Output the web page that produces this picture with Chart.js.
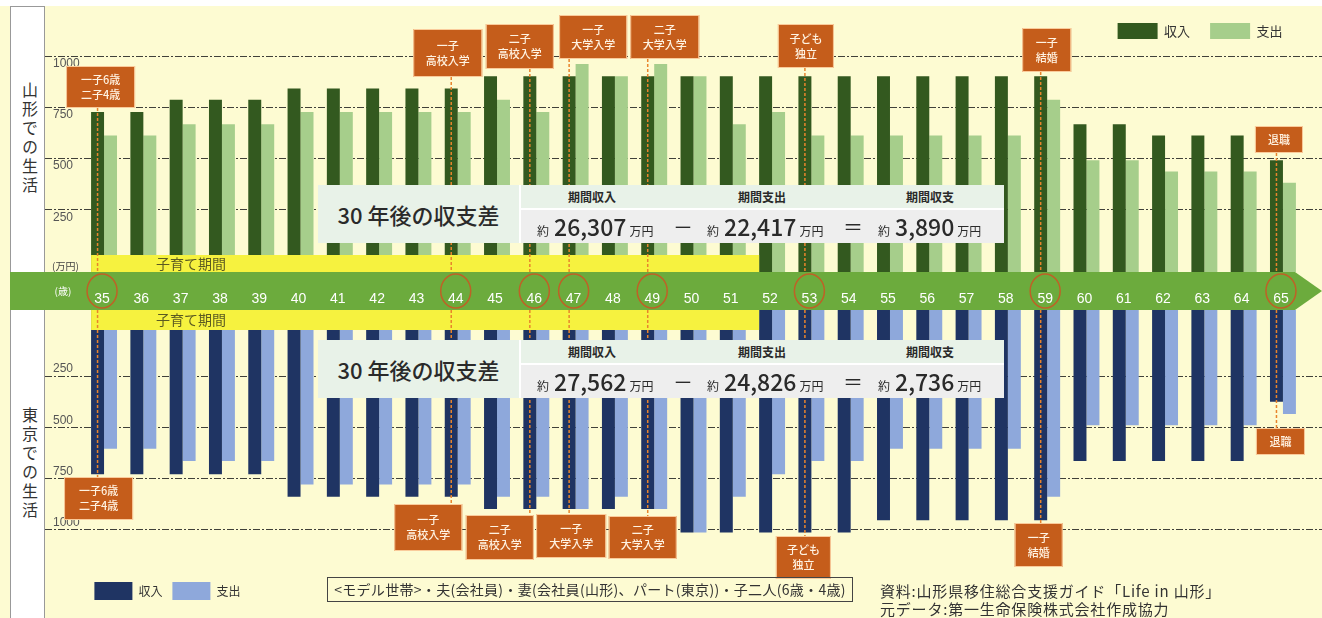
<!DOCTYPE html>
<html>
<head>
<meta charset="utf-8">
<script src="https://cdn.jsdelivr.net/npm/chart.js@4.4.1/dist/chart.umd.min.js"></script>
<style>
body { margin: 0; width: 1322px; height: 618px; background: #fdfbd2; position: relative; overflow: hidden; font-family: "Noto Sans CJK JP", sans-serif; color: #2a2a2a; }
.abs { position: absolute; }
#strip { left: 0; top: 0; width: 1322px; height: 6px; background: #fff; }
.panel { left: 10px; width: 33px; background: #fff; border-left: 1.5px solid #999; border-right: 1.5px solid #999; }
.vtext { left: 18px; writing-mode: vertical-rl; font-size: 16px; letter-spacing: 3px; color: #333; }
#topWrap { left: 0; top: 0; width: 1322px; height: 310px; }
#botWrap { left: 0; top: 310px; width: 1322px; height: 300px; }
.sum { left: 318px; width: 686px; height: 58px; background: #fff; z-index: 5; }
.sum .title { left: 0; top: 0; width: 201px; height: 58px; background: #e8f2e8; font-size: 22px; font-weight: 500; display: flex; align-items: center; justify-content: center; }
.sum .head { left: 203px; top: 0; width: 483px; height: 23px; background: #e8f2e8; }
.sum .vals { left: 203px; top: 25px; width: 483px; height: 33px; background: #eeeeee; }
.sum .h { top: 3px; font-size: 12px; font-weight: 700; transform: translateX(-50%); white-space: nowrap; }
.sum .v { top: 0; height: 33px; display: flex; align-items: baseline; white-space: nowrap; line-height: 33px; }
.sum .v small { font-size: 12px; }
.sum .v b { font-size: 23px; font-weight: 500; margin: 0 3px 0 5px; }
.sum .op { top: 0; line-height: 33px; font-size: 20px; transform: translateX(-50%); }
#model { left: 327px; top: 577px; width: 524px; height: 23px; border: 1px solid #444; font-size: 14px; line-height: 23px; text-align: center; color: #333; white-space: nowrap; letter-spacing: 0.3px; }
#src { left: 880px; top: 582px; font-size: 15px; line-height: 18px; color: #333; white-space: nowrap; letter-spacing: 0.8px; }
#unit { left: 52px; top: 258px; font-size: 10px; color: #444; z-index: 3; }
</style>
</head>
<body>
<div class="abs" id="strip"></div>
<div class="abs panel" style="top:6px;height:266px;border-top:1.5px solid #999;"></div>
<div class="abs panel" style="top:310px;height:308px;"></div>
<div class="abs vtext" style="top:82px;">山形での生活</div>
<div class="abs vtext" style="top:407px;">東京での生活</div>
<div class="abs" id="topWrap"><canvas id="top-canvas"></canvas></div>
<div class="abs" id="botWrap"><canvas id="bot-canvas"></canvas></div>
<div class="abs" id="unit">(万円)</div>

<div class="abs sum" style="top:185px;">
  <div class="abs title">30 年後の収支差</div>
  <div class="abs head">
    <span class="abs h" style="left:71px;">期間収入</span>
    <span class="abs h" style="left:241px;">期間支出</span>
    <span class="abs h" style="left:409px;">期間収支</span>
  </div>
  <div class="abs vals">
    <span class="abs v" style="left:16px;"><small>約</small><b>26,307</b><small>万円</small></span>
    <span class="abs op" style="left:162px;">－</span>
    <span class="abs v" style="left:186px;"><small>約</small><b>22,417</b><small>万円</small></span>
    <span class="abs op" style="left:332px;">＝</span>
    <span class="abs v" style="left:357px;"><small>約</small><b>3,890</b><small>万円</small></span>
  </div>
</div>

<div class="abs sum" style="top:340px;">
  <div class="abs title">30 年後の収支差</div>
  <div class="abs head">
    <span class="abs h" style="left:71px;">期間収入</span>
    <span class="abs h" style="left:241px;">期間支出</span>
    <span class="abs h" style="left:409px;">期間収支</span>
  </div>
  <div class="abs vals">
    <span class="abs v" style="left:16px;"><small>約</small><b>27,562</b><small>万円</small></span>
    <span class="abs op" style="left:162px;">－</span>
    <span class="abs v" style="left:186px;"><small>約</small><b>24,826</b><small>万円</small></span>
    <span class="abs op" style="left:332px;">＝</span>
    <span class="abs v" style="left:357px;"><small>約</small><b>2,736</b><small>万円</small></span>
  </div>
</div>

<div class="abs" id="model">&lt;モデル世帯&gt;・夫(会社員)・妻(会社員(山形)、パート(東京))・子二人(6歳・4歳)</div>
<div class="abs" id="src">資料:山形県移住総合支援ガイド「Life in 山形」<br>元データ:第一生命保険株式会社作成協力</div>

<script>
// ages on the arrow
const ages = ['35','36','37','38','39','40','41','42','43','44','45','46','47','48','49','50',
	'51','52','53','54','55','56','57','58','59','60','61','62','63','64','65'];

// 山形 (万円)
const yamagataIncome = [725,725,785,785,785,840,840,840,840,840,900,900,900,900,900,900,
	900,900,900,900,900,900,900,900,900,665,665,610,610,610,490];
const yamagataSpend = [610,610,665,665,665,725,725,725,725,725,785,725,960,900,960,900,
	665,725,610,610,610,610,610,610,785,490,490,435,435,435,380];

// 東京 (万円)
const tokyoIncome = [730,730,730,730,730,840,840,840,840,840,900,900,900,900,900,1015,
	1015,1015,1015,1015,955,955,955,955,955,665,665,665,665,665,375];
const tokyoSpend = [605,605,665,665,665,780,780,780,780,780,840,840,900,840,900,1015,
	840,730,665,665,605,605,605,605,840,490,490,490,490,490,435];

const valueTicks = [250, 500, 750, 1000];

// life events
const eventAges = ['35','44','46','47','49','53','59','65'];
const eventNotes = ['一子6歳\n二子4歳','一子\n高校入学','二子\n高校入学','一子\n大学入学',
	'二子\n大学入学','子ども\n独立','一子\n結婚','退職'];

// child-raising period (first and first-after ages)
const raisingFrom = '35', raisingUntil = '52';

// note box layout: [dx from bar, top (page y), width, height]
const topNoteBox = [[3,66,69,42],[-3.5,29,69,48],[-10,24,68,45],[24,15,68,44],[17,15,69,44],[1,24,56,44],[6,28,49,44],[2.5,126,48,27]];
const botNoteBox = [[1,477,69,43],[-23,504,68,47],[-30,515,68,45],[2,514,70,44],[-5,516,68,43],[-1.5,536,55,43],[-2,523,48,44],[4,428,49,27]];

const TOP_MIN = -56, TOP_MAX = 1033;
const BOT_MIN = -73, BOT_MAX = 1208;
const BOT_OFFSET = 310;

Chart.defaults.font.family = "'Noto Sans CJK JP', sans-serif";
Chart.defaults.color = '#333';

function drawNote(ctx, cx, top, w, h, text) {
	ctx.fillStyle = '#c55d1b';
	ctx.fillRect(cx - w / 2, top, w, h);
	ctx.strokeStyle = 'rgba(255,215,170,0.9)';
	ctx.lineWidth = 1;
	ctx.strokeRect(cx - w / 2 + 0.5, top + 0.5, w - 1, h - 1);
	ctx.fillStyle = '#fff3e2';
	ctx.font = '500 11px "Noto Sans CJK JP"';
	ctx.textAlign = 'center';
	ctx.textBaseline = 'middle';
	const lines = text.split('\n');
	lines.forEach((l, i) => ctx.fillText(l, cx, top + h / 2 + (i - (lines.length - 1) / 2) * 15));
}

const decor = {
	id: 'decor',
	beforeDraw(chart, args, opts) {
		if (opts.side !== 'top') return;
		const {ctx, chartArea} = chart;
		const t = chartArea.bottom, b = t + 38, m = (t + b) / 2;
		ctx.save();
		ctx.fillStyle = '#6cab3d';
		ctx.beginPath();
		ctx.moveTo(10, t); ctx.lineTo(1295, t); ctx.lineTo(1322, m); ctx.lineTo(1295, b); ctx.lineTo(10, b);
		ctx.closePath();
		ctx.fill();
		ctx.fillStyle = '#fff';
		ctx.font = '10px "Noto Sans CJK JP"';
		ctx.textAlign = 'center';
		ctx.textBaseline = 'middle';
		ctx.fillText('(歳)', 63, m);
		ctx.restore();
	},
	beforeDatasetsDraw(chart, args, opts) {
		const {ctx, scales: {y}} = chart;
		ctx.save();
		ctx.strokeStyle = 'rgba(30,30,30,0.85)';
		ctx.lineWidth = 1;
		ctx.setLineDash([7, 2, 2, 2]);
		valueTicks.forEach(v => {
			const py = Math.round(y.getPixelForValue(v)) + 0.5;
			ctx.beginPath(); ctx.moveTo(45, py); ctx.lineTo(chart.width, py); ctx.stroke();
		});
		ctx.setLineDash([]);
		ctx.fillStyle = '#555';
		ctx.font = '12px "Liberation Sans"';
		ctx.textAlign = 'left';
		valueTicks.forEach(v => {
			const py = y.getPixelForValue(v);
			if (opts.side === 'top') { ctx.textBaseline = 'top'; ctx.fillText(String(v), 53, py + 2); }
			else { ctx.textBaseline = 'bottom'; ctx.fillText(String(v), 53, py - 1); }
		});
		ctx.restore();
	},
	afterDatasetsDraw(chart, args, opts) {
		const {ctx, chartArea} = chart;
		const inc = chart.getDatasetMeta(0).data;
		const isTop = opts.side === 'top';
		ctx.save();
		// 子育て期間 band
		const b0 = inc[ages.indexOf(raisingFrom)], b1 = inc[ages.indexOf(raisingUntil)];
		const x0 = b0.x - b0.width / 2, x1 = b1.x - b1.width / 2;
		const by = isTop ? chartArea.bottom - 17 : chartArea.top;
		const bh = isTop ? 17 : 20;
		ctx.fillStyle = '#f6f23f';
		ctx.fillRect(x0, by, x1 - x0, bh);
		ctx.fillStyle = '#5b5a22';
		ctx.font = '14px "Noto Sans CJK JP"';
		ctx.textAlign = 'center';
		ctx.textBaseline = 'middle';
		ctx.fillText('子育て期間', 191, by + bh / 2);
		// event lines and notes
		const boxes = isTop ? topNoteBox : botNoteBox;
		eventAges.forEach((a, i) => {
			const bar = inc[ages.indexOf(a)];
			const [dx, top, w, h] = boxes[i];
			const bt = isTop ? top : top - BOT_OFFSET;
			ctx.strokeStyle = '#e8842c';
			ctx.lineWidth = 1.5;
			ctx.setLineDash([3, 2]);
			ctx.beginPath();
			if (isTop) { ctx.moveTo(bar.x, bt + h); ctx.lineTo(bar.x, chartArea.bottom); }
			else { ctx.moveTo(bar.x, chartArea.top); ctx.lineTo(bar.x, bt); }
			ctx.stroke();
			ctx.setLineDash([]);
			drawNote(ctx, bar.x + dx, bt, w, h, eventNotes[i]);
		});
		ctx.restore();
	},
	afterDraw(chart, args, opts) {
		if (opts.side !== 'top') return;
		const {ctx, chartArea, scales: {x}} = chart;
		ctx.save();
		ctx.strokeStyle = '#bf6126';
		ctx.lineWidth = 1.5;
		eventAges.forEach(a => {
			const px = x.getPixelForTick(ages.indexOf(a)) - 2;
			ctx.beginPath();
			ctx.ellipse(px, chartArea.bottom + 19, 15, 17, 0, 0, Math.PI * 2);
			ctx.stroke();
		});
		ctx.restore();
	}
};

new Chart('top-canvas', {
	type: 'bar',
	data: {
		labels: ages,
		datasets: [
			{ label: '収入', data: yamagataIncome, backgroundColor: '#33591f', base: TOP_MIN },
			{ label: '支出', data: yamagataSpend, backgroundColor: '#a6ce8b', base: TOP_MIN }
		]
	},
	options: {
		responsive: true,
		maintainAspectRatio: false,
		animation: false,
		events: [],
		categoryPercentage: 0.66,
		barPercentage: 1,
		layout: { padding: { left: 84.4, right: 19.4, top: 3, bottom: 0 } },
		scales: {
			x: {
				grid: { display: false },
				border: { display: false },
				ticks: { color: '#fff', font: { size: 14, family: 'Liberation Sans' }, padding: 11, labelOffset: -2, maxRotation: 0, autoSkip: false },
				afterFit: (scale) => { scale.height = 38; }
			},
			y: { display: false, min: TOP_MIN, max: TOP_MAX }
		},
		plugins: {
			tooltip: { enabled: false },
			legend: {
				position: 'top',
				align: 'end',
				labels: { boxWidth: 40, boxHeight: 16, padding: 20, font: { size: 13 }, color: '#333' }
			},
			decor: { side: 'top' }
		}
	},
	plugins: [decor]
});

new Chart('bot-canvas', {
	type: 'bar',
	data: {
		labels: ages,
		datasets: [
			{ label: '収入', data: tokyoIncome, backgroundColor: '#1f3463', base: BOT_MIN },
			{ label: '支出', data: tokyoSpend, backgroundColor: '#8ea8db', base: BOT_MIN }
		]
	},
	options: {
		responsive: true,
		maintainAspectRatio: false,
		animation: false,
		events: [],
		categoryPercentage: 0.66,
		barPercentage: 1,
		layout: { padding: { left: 84.4, right: 19.4, top: 0, bottom: 0 } },
		scales: {
			x: { display: false },
			y: { display: false, reverse: true, min: BOT_MIN, max: BOT_MAX }
		},
		plugins: {
			tooltip: { enabled: false },
			legend: {
				position: 'bottom',
				align: 'start',
				labels: { boxWidth: 38, boxHeight: 18, padding: 10, font: { size: 12 }, color: '#333' }
			},
			decor: { side: 'bottom' }
		}
	},
	plugins: [decor]
});
</script>
</body>
</html>
